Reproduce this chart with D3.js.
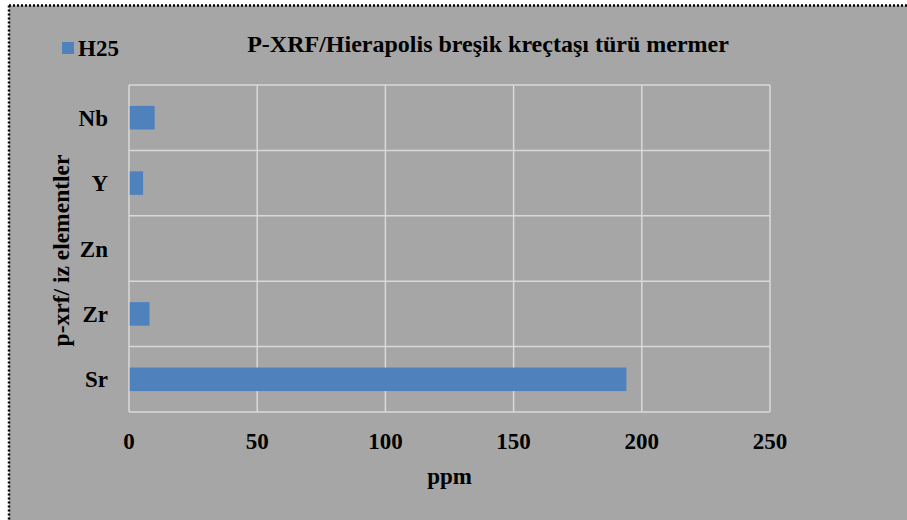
<!DOCTYPE html>
<html>
<head>
<meta charset="utf-8">
<script src="https://cdn.jsdelivr.net/npm/d3@7"></script>
<style>
  html, body { margin: 0; padding: 0; background: #ffffff; overflow: hidden; }
  svg { display: block; }
  text { font-family: "Liberation Serif", "Times New Roman", serif; font-weight: bold; fill: #000; }
</style>
</head>
<body>
<svg id="chart" width="907" height="520"></svg>
<script>
const categories = ["Sr", "Zr", "Zn", "Y", "Nb"];
const seriesName = "H25";
const values = [194, 8, 0, 5.5, 10];
const xTicks = [0, 50, 100, 150, 200, 250];
const titleText = "P-XRF/Hierapolis breşik kreçtaşı türü mermer";
const xTitle = "ppm";
const yTitle = "p-xrf/ iz elementler";

const svg = d3.select("#chart");
const W = 907, H = 520;

// chart area background
svg.append("rect")
  .attr("x", 9).attr("y", 5.5)
  .attr("width", W - 9).attr("height", H - 5.5)
  .attr("fill", "#a6a6a6");
// dotted border (top and left visible)
svg.append("line").attr("x1", 9).attr("x2", W).attr("y1", 5.5).attr("y2", 5.5)
  .attr("stroke", "#000").attr("stroke-width", 2.5).attr("stroke-dasharray", "2,2");
svg.append("line").attr("x1", 9).attr("x2", 9).attr("y1", 5.5).attr("y2", H)
  .attr("stroke", "#000").attr("stroke-width", 2.5).attr("stroke-dasharray", "2,2");

const plot = { left: 129, right: 770, top: 85, bottom: 412 };

const x = d3.scaleLinear().domain([0, 250]).range([plot.left, plot.right]);
const order = categories.slice().reverse(); // top to bottom
const pad = 0.64;
const y = d3.scaleBand().domain(order).range([plot.top, plot.bottom])
  .paddingInner(pad).paddingOuter(pad / 2);

const gridColor = "#d9d9d9";

// vertical gridlines
svg.append("g").selectAll("line").data(xTicks).join("line")
  .attr("x1", d => x(d)).attr("x2", d => x(d))
  .attr("y1", plot.top).attr("y2", plot.bottom)
  .attr("stroke", gridColor).attr("stroke-width", 1.5);

// horizontal category boundary lines
const step = y.step();
const bounds = order.map(c => y(c) - step * pad / 2).concat([plot.bottom]);
svg.append("g").selectAll("line").data(bounds).join("line")
  .attr("x1", plot.left).attr("x2", plot.right)
  .attr("y1", d => d).attr("y2", d => d)
  .attr("stroke", gridColor).attr("stroke-width", 1.5);

// bars
const data = categories.map((c, i) => ({ c, v: values[i] }));
svg.append("g").selectAll("rect").data(data.filter(d => d.v > 0)).join("rect")
  .attr("x", x(0) + 0.75)
  .attr("y", d => y(d.c))
  .attr("width", d => x(d.v) - x(0) - 0.75)
  .attr("height", y.bandwidth())
  .attr("fill", "#4f81bd");

// x tick labels
svg.append("g").selectAll("text").data(xTicks).join("text")
  .attr("x", d => x(d)).attr("y", 449)
  .attr("text-anchor", "middle")
  .style("font-size", "23px")
  .text(d => d);

// category labels
svg.append("g").selectAll("text").data(categories).join("text")
  .attr("x", 108).attr("y", d => y(d) + y.bandwidth() / 2 + 8)
  .attr("text-anchor", "end")
  .style("font-size", "23px")
  .text(d => d);

// title
svg.append("text")
  .attr("x", 488).attr("y", 52)
  .attr("text-anchor", "middle")
  .style("font-size", "24px")
  .text(titleText);

// legend
svg.append("rect").attr("x", 62).attr("y", 42).attr("width", 12).attr("height", 12).attr("fill", "#4f81bd");
svg.append("text").attr("x", 78).attr("y", 56).style("font-size", "23px").text(seriesName);

// axis titles
svg.append("text")
  .attr("x", (plot.left + plot.right) / 2).attr("y", 484)
  .attr("text-anchor", "middle")
  .style("font-size", "23px")
  .text(xTitle);

svg.append("text")
  .attr("transform", `translate(69,${(plot.top + plot.bottom) / 2 + 2}) rotate(-90)`)
  .attr("text-anchor", "middle")
  .style("font-size", "23.5px")
  .text(yTitle);
</script>
</body>
</html>
